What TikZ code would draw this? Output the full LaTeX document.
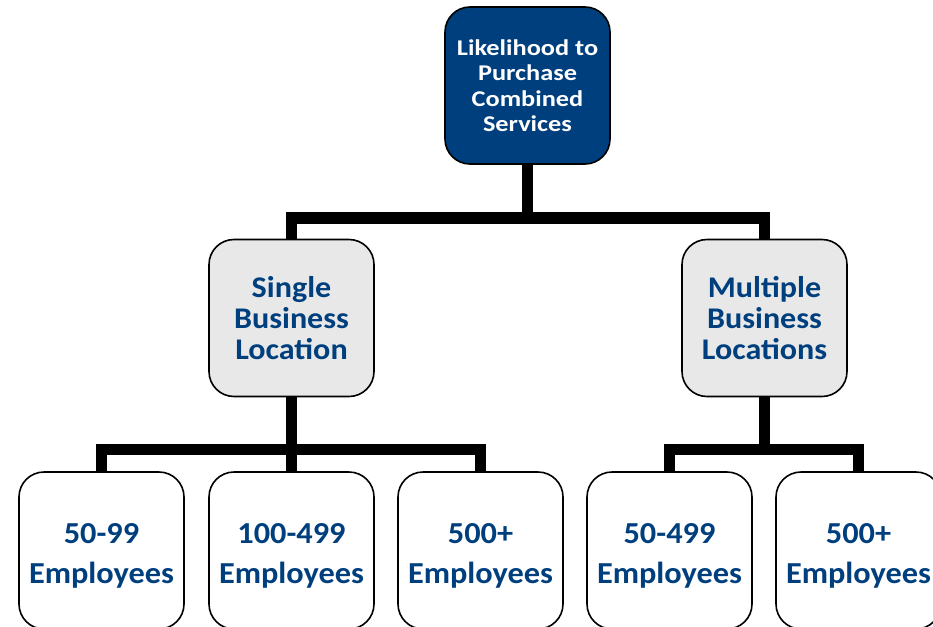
\documentclass[tikz,border=0pt]{standalone}
\usepackage{fontspec}
\setmainfont{Carlito}
\newfontfamily\wideA[FakeStretch=1.17]{Carlito}
\newfontfamily\wideB[FakeStretch=1.07]{Carlito}
\newfontfamily\wideC[FakeStretch=1.06]{Carlito}
\newcommand\tallstrut{\rule{0pt}{31pt}}
\definecolor{navy}{RGB}{0,63,125}
\definecolor{lightgrey}{RGB}{232,232,232}

\begin{document}
\begin{tikzpicture}[x=1pt,y=-1pt,
  box/.style={draw=black,line width=1.6pt,rounded corners=25pt,
    minimum width=165pt,minimum height=157pt,inner sep=0pt,align=center},
  topbox/.style={box,fill=navy,text=white,
    font=\wideA\bfseries\fontsize{22.5}{25.5}\selectfont},
  midbox/.style={box,fill=lightgrey,text=navy,
    font=\wideB\bfseries\fontsize{30}{31}\selectfont},
  empbox/.style={box,fill=white,text=navy,
    font=\wideC\bfseries\fontsize{30.5}{40}\selectfont},
  trunk/.style={line width=11.5pt,line join=miter,line cap=butt}]
\clip (0,0) rectangle (933,626);
\fill[white] (0,0) rectangle (933,626);

\node[topbox] (top) at (527.5,85.5) {Likelihood to\\Purchase\\Combined\\Services};

\node[midbox] (single) at (291.5,318) {Single\\Business\\Location};
\node[midbox] (multi) at (764.5,318) {Multiple\\Business\\Locations};

\node[empbox] (e1) at (101.5,550.5) {\tallstrut 50-99\\Employees};
\node[empbox] (e2) at (291.5,550.5) {\tallstrut 100-499\\Employees};
\node[empbox] (e3) at (480.5,550.5) {\tallstrut 500+\\Employees};
\node[empbox] (e4) at (669.5,550.5) {\tallstrut 50-499\\Employees};
\node[empbox] (e5) at (858.5,550.5) {\tallstrut 500+\\Employees};

% first level
\draw[trunk] (top.south) -- ++(0,53) coordinate (j0);
\draw[trunk] (single.north) |- (j0) -| (multi.north);

% single location
\draw[trunk] (single.south) -- ++(0,52) coordinate (j1);
\draw[trunk] (e1.north) |- (j1) -| (e3.north);
\draw[trunk] (j1) -- (e2.north);

% multiple locations
\draw[trunk] (multi.south) -- ++(0,52) coordinate (j2);
\draw[trunk] (e4.north) |- (j2) -| (e5.north);
\end{tikzpicture}
\end{document}
